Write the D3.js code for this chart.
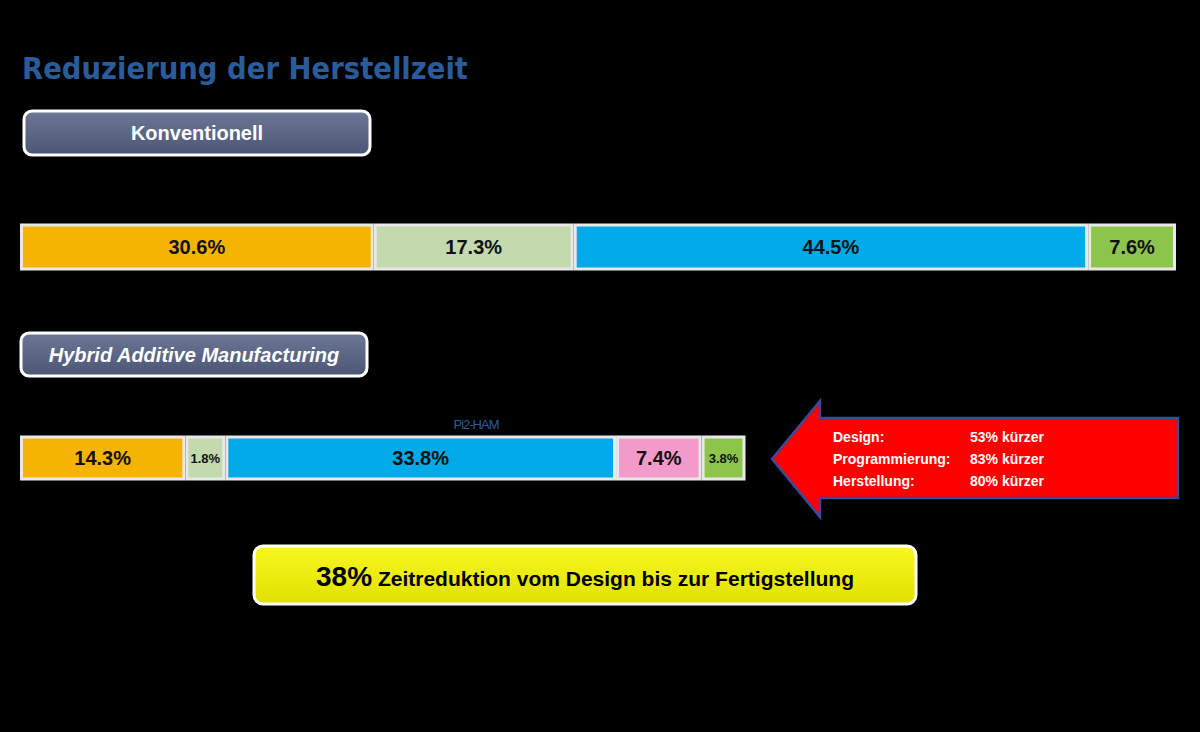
<!DOCTYPE html>
<html><head><meta charset="utf-8">
<script src="https://cdn.jsdelivr.net/npm/d3@7"></script>
<style>body{margin:0;background:#000}svg{display:block}</style>
</head><body><svg id="c" width="1200" height="732"></svg>
<script>
const conventionalValues = [30.6, 17.3, 44.5, 7.6];
const conventionalColors = ["#F5B400", "#C3D9AE", "#00A9E8", "#8DC44B"];
const hamValues = [14.3, 1.8, 33.8, 7.4, 3.8];
const hamColors = ["#F5B400", "#C3D9AE", "#00A9E8", "#F29BCB", "#8DC44B"];
const arrowLines = [["Design:", "53% kürzer"], ["Programmierung:", "83% kürzer"], ["Herstellung:", "80% kürzer"]];

const svg = d3.select("#c");
const defs = svg.append("defs");
const lg = defs.append("linearGradient").attr("id","pill").attr("x1",0).attr("x2",0).attr("y1",0).attr("y2",1);
lg.append("stop").attr("offset","0").attr("stop-color","#6c7796");
lg.append("stop").attr("offset","1").attr("stop-color","#4c5674");
const yg = defs.append("linearGradient").attr("id","yel").attr("x1",0).attr("x2",0).attr("y1",0).attr("y2",1);
yg.append("stop").attr("offset","0").attr("stop-color","#f8f820");
yg.append("stop").attr("offset","1").attr("stop-color","#e0e000");

svg.append("text").attr("x",22).attr("y",79).text("Reduzierung der Herstellzeit")
  .attr("font-family","DejaVu Sans").attr("font-weight","bold").attr("font-size",30)
  .attr("fill","#2a5c9c").attr("textLength",446).attr("lengthAdjust","spacingAndGlyphs");

function pill(x,y,w,h,label,italic){
  svg.append("rect").attr("x",x).attr("y",y).attr("width",w).attr("height",h).attr("rx",8)
    .attr("fill","url(#pill)").attr("stroke","#fff").attr("stroke-width",3);
  svg.append("text").attr("x",x+w/2).attr("y",y+h/2+7).attr("text-anchor","middle").text(label)
    .attr("font-family","Liberation Sans").attr("font-weight","bold").attr("font-size",20)
    .attr("font-style",italic?"italic":"normal").attr("fill","#fff");
}
pill(24,111,346,44,"Konventionell",false);
pill(21,333,346,43,"Hybrid Additive Manufacturing",true);

const x = d3.scaleLinear().domain([0,100]).range([0,1156]);
function bar(vals, cols, y0, h, minW, smallFont){
  let cx = 20;
  vals.forEach((v,i)=>{
    const w = Math.max(x(v), minW);
    svg.append("rect").attr("x",cx+1.5).attr("y",y0).attr("width",w-3).attr("height",h)
      .attr("fill",cols[i]).attr("stroke","#e8e8e8").attr("stroke-width",3);
    const fs = w<70 ? 13 : 20;
    svg.append("text").attr("x",cx+w/2).attr("y",y0+h/2+fs*0.36).attr("text-anchor","middle")
      .text(v.toFixed(1)+"%").attr("font-family","Liberation Sans").attr("font-weight","bold")
      .attr("font-size",fs).attr("fill","#111");
    cx += w;
  });
}
bar(conventionalValues, conventionalColors, 225, 44, 0);
bar(hamValues, hamColors, 437, 42, 40);

svg.append("text").attr("x",476).attr("y",429).attr("text-anchor","middle").text("Pi2-HAM")
  .attr("font-family","Liberation Sans").attr("font-size",13).attr("fill","#2a5c9c").attr("letter-spacing",-1);

// arrow
svg.append("path").attr("d","M772,459 L820,401 L820,418 L1178,418 L1178,498 L820,498 L820,517 Z")
  .attr("fill","#f00").attr("stroke","#3a4a9a").attr("stroke-width",2.5);
arrowLines.forEach((l,i)=>{
  const y = 442+i*22;
  svg.append("text").attr("x",833).attr("y",y).text(l[0]).attr("font-family","Liberation Sans")
    .attr("font-weight","bold").attr("font-size",14).attr("fill","#fff");
  svg.append("text").attr("x",970).attr("y",y).text(l[1]).attr("font-family","Liberation Sans")
    .attr("font-weight","bold").attr("font-size",14).attr("fill","#fff");
});

svg.append("rect").attr("x",254).attr("y",546).attr("width",662).attr("height",58).attr("rx",9)
  .attr("fill","url(#yel)").attr("stroke","#fff").attr("stroke-width",3);
const t = svg.append("text").attr("x",585).attr("y",586).attr("text-anchor","middle")
  .attr("font-family","Liberation Sans").attr("font-weight","bold").attr("fill","#000");
t.append("tspan").text("38%").attr("font-size",28);
t.append("tspan").text(" Zeitreduktion vom Design bis zur Fertigstellung").attr("font-size",21);
</script></body></html>
